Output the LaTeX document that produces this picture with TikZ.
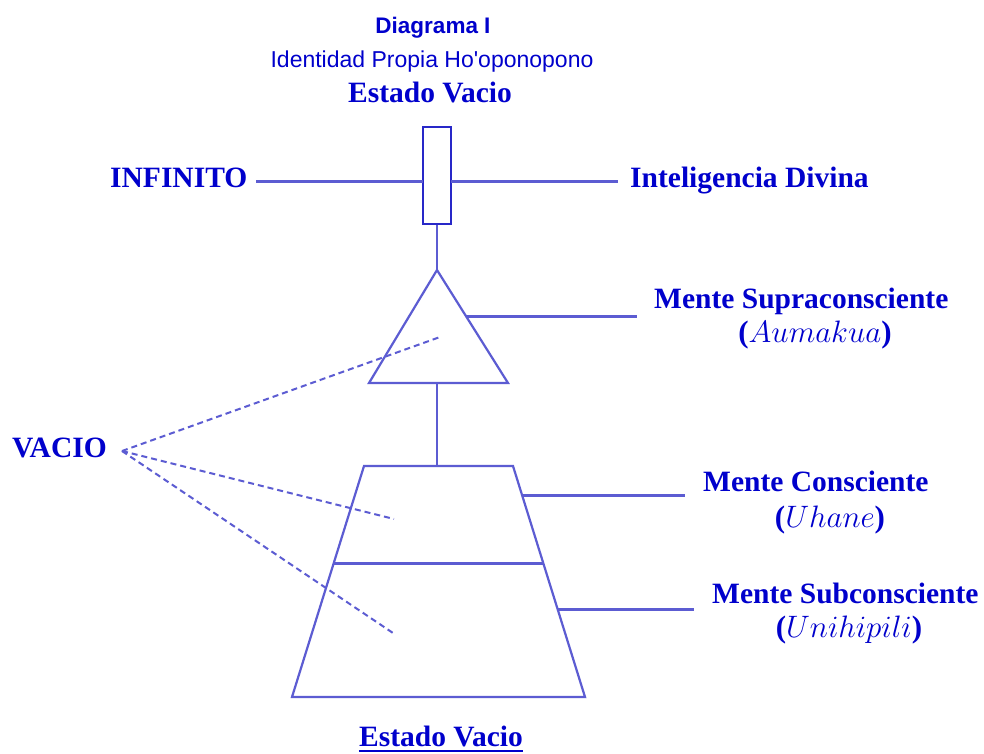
\RequirePackage{fix-cm}
\documentclass[tikz,border=0pt]{standalone}
\usepackage{fontspec}
\setmainfont{Liberation Serif}
\setsansfont{Liberation Sans}
\definecolor{txtblue}{RGB}{0,0,204}
\definecolor{lnblue}{RGB}{92,92,210}
\definecolor{boxblue}{RGB}{40,40,200}
\begin{document}
\begin{tikzpicture}[x=1pt,y=-1pt,
  lbl/.style={text=txtblue,inner sep=0pt,font=\bfseries\fontsize{29.5}{32}\selectfont},
  sub/.style={text=txtblue,inner sep=0pt,font=\bfseries\fontsize{31}{34}\selectfont},
  conn/.style={draw=lnblue,line width=3pt},
  outline/.style={draw=lnblue,line width=2.2pt,line join=miter},
  dashline/.style={draw=lnblue,line width=2pt,dash pattern=on 6pt off 4pt}]
\useasboundingbox (0,0) rectangle (984,753);
\fill[white] (0,0) rectangle (984,753);

% titles
\node[anchor=base,text=txtblue,inner sep=0pt,font=\sffamily\bfseries\fontsize{22.5}{25}\selectfont] (title) at (433,33) {Diagrama I};
\node[anchor=base,text=txtblue,inner sep=0pt,font=\sffamily\fontsize{23}{26}\selectfont] (subtitle) at (432,67) {Identidad Propia Ho\textquotesingle oponopono};
\node[lbl,anchor=base] (evtop) at (430,102) {Estado Vacio};

% top box and infinity line
\node[draw=boxblue,line width=2pt,minimum width=28pt,minimum height=97pt,inner sep=0pt] (box) at (437,175.5) {};
\node[lbl,anchor=base west] (inf) at (110,187) {INFINITO};
\node[lbl,anchor=base west] (intel) at (630,187) {Inteligencia Divina};
\coordinate (infL) at (256,181);
\coordinate (boxL) at (423,181);
\coordinate (boxR) at (451,181);
\coordinate (intelR) at (618,181);
\draw[conn] (infL) -- (boxL);
\draw[conn] (boxR) -- (intelR);

% triangle
\coordinate (apex) at (437,270);
\coordinate (triBL) at (369,383);
\coordinate (triBR) at (508,383);
\coordinate (triB) at (437,383);
\draw[conn,line width=2.6pt] (box.south) -- (apex);
\draw[outline] (apex) -- (triBL) -- (triBR) -- cycle;
\coordinate (triS) at (466,316);
\coordinate (supE) at (637,316);
\draw[conn] (triS) -- (supE);
\node[lbl,anchor=base west] (sup) at (654,308) {Mente Supraconsciente};
\node[sub,anchor=base] (aum) at (815,342) {($Aumakua$)};

% trapezoid
\coordinate (tTL) at (364,466);
\coordinate (tTR) at (513,466);
\coordinate (tBR) at (585,697);
\coordinate (tBL) at (292,697);
\coordinate (tT) at (437,466);
\draw[conn,line width=2.6pt] (triB) -- (tT);
\draw[outline] (tTL) -- (tTR) -- (tBR) -- (tBL) -- cycle;
\coordinate (midL) at (334,563);
\coordinate (midR) at (543,563);
\draw[conn] (midL) -- (midR);

\coordinate (conS) at (522,495);
\coordinate (conE) at (685,495);
\draw[conn] (conS) -- (conE);
\node[lbl,anchor=base west] (con) at (703,491) {Mente Consciente};
\node[sub,anchor=base] (uha) at (830,527) {($Uhane$)};

\coordinate (subS) at (557,609);
\coordinate (subE) at (694,609);
\draw[conn] (subS) -- (subE);
\node[lbl,anchor=base west] (subc) at (712,603) {Mente Subconsciente};
\node[sub,anchor=base] (uni) at (849,637) {($Unihipili$)};

% VACIO
\node[lbl,anchor=base west] (vacio) at (12,457) {VACIO};
\coordinate (vo) at (122,451);
\coordinate (d1) at (440,337);
\coordinate (d2) at (394,519);
\coordinate (d3) at (393,633);
\draw[dashline] (vo) -- (d1);
\draw[dashline] (vo) -- (d2);
\draw[dashline] (vo) -- (d3);

% bottom
\node[lbl,anchor=base] (evbot) at (441,746) {Estado Vacio};
\draw[draw=txtblue,line width=1.6pt] ([yshift=-5pt]evbot.base west) -- ([yshift=-5pt]evbot.base east);
\end{tikzpicture}
\end{document}
